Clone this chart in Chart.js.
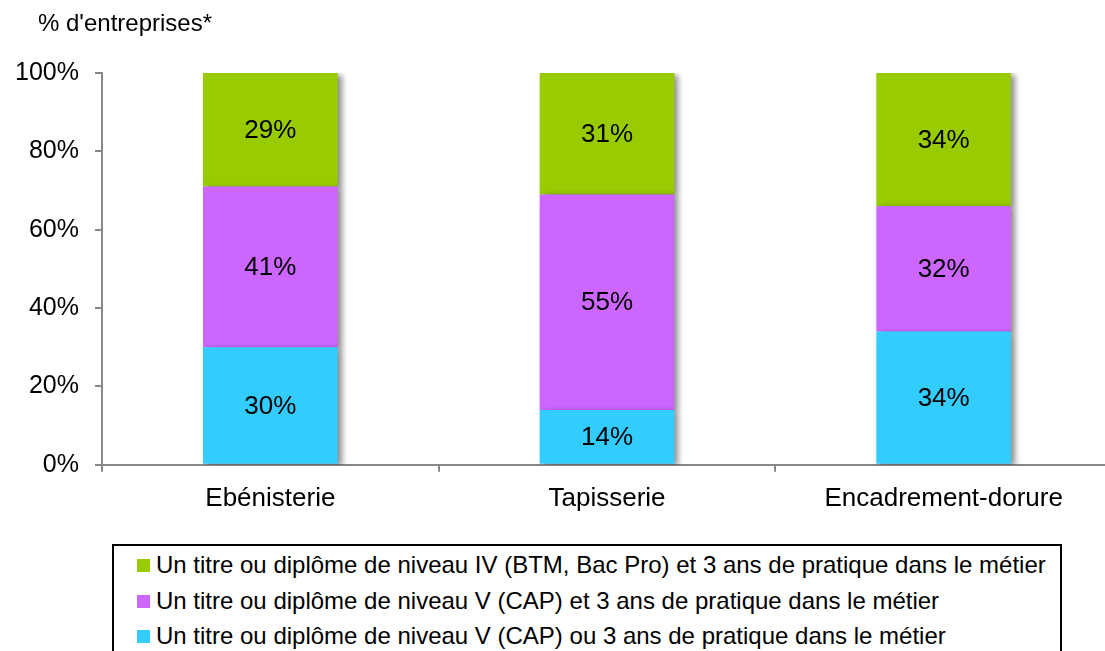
<!DOCTYPE html>
<html lang="fr">
<head>
<meta charset="utf-8">
<script src="https://cdn.jsdelivr.net/npm/chart.js@4"></script>
<style>
  html, body { margin: 0; padding: 0; background: #fff; overflow: hidden; }
  #wrap { position: relative; width: 1112px; height: 651px; }
  #title { position: absolute; left: 38px; top: 9px; font: 24px 'Liberation Sans', Arial, sans-serif; color: #000; }
  #legend { position: absolute; left: 112px; top: 544px; width: 946px; height: 140px; border: 2px solid #000; background: #fff; }
  .item { position: absolute; left: 0; height: 35px; font: 24px 'Liberation Sans', Arial, sans-serif; color: #000; white-space: nowrap; }
  .item span.box { position: absolute; left: 23px; top: 13px; width: 13px; height: 13px; }
  .item span.txt { position: absolute; left: 42px; top: 5px; line-height: 28px; }
</style>
</head>
<body>
<div id="wrap">
  <canvas id="formationChart" width="1112" height="651"></canvas>
  <div id="title">% d'entreprises*</div>
  <div id="legend"></div>
</div>
<script>
const metiers = ["Ebénisterie", "Tapisserie", "Encadrement-dorure"];
const seriesNames = [
    "Un titre ou diplôme de niveau V (CAP) ou 3 ans de pratique dans le métier",
    "Un titre ou diplôme de niveau V (CAP) et 3 ans de pratique dans le métier",
    "Un titre ou diplôme de niveau IV (BTM, Bac Pro) et 3 ans de pratique dans le métier"
];
const niveauVou = [30, 14, 34];
const niveauVet = [41, 55, 32];
const niveauIV = [29, 31, 34];
const yTicks = [0, 20, 40, 60, 80, 100];
const colors = ["#33CCFF", "#CC66FF", "#99CC00"];

const axisGrey = "#888888";
const font = "'Liberation Sans', Arial, sans-serif";

// ombre portée sous les barres
const barShadow = {
    id: "barShadow",
    beforeDatasetDraw(chart) {
        const c = chart.ctx;
        c.save();
        c.shadowColor = "rgba(0, 0, 0, 0.45)";
        c.shadowBlur = 6;
        c.shadowOffsetX = 4;
        c.shadowOffsetY = 2;
    },
    afterDatasetDraw(chart) {
        chart.ctx.restore();
    }
};

// pourcentage au milieu de chaque segment
const segmentLabels = {
    id: "segmentLabels",
    afterDatasetsDraw(chart) {
        const c = chart.ctx;
        c.save();
        c.font = "26px " + font;
        c.fillStyle = "#000";
        c.textAlign = "center";
        c.textBaseline = "middle";
        chart.data.datasets.forEach((ds, i) => {
            chart.getDatasetMeta(i).data.forEach((bar, j) => {
                const p = bar.getProps(["x", "y", "base"], true);
                c.fillText(ds.data[j] + "%", p.x, (p.y + p.base) / 2 + 1);
            });
        });
        c.restore();
    }
};

const ctx = document.getElementById("formationChart").getContext("2d");

const chart = new Chart(ctx, {
    type: "bar",
    data: {
        labels: metiers,
        datasets: [niveauVou, niveauVet, niveauIV].map((values, i) => ({
            label: seriesNames[i],
            data: values,
            backgroundColor: colors[i],
            borderWidth: 0,
            barPercentage: 0.4,
            categoryPercentage: 1
        }))
    },
    options: {
        responsive: false,
        animation: false,
        layout: { padding: { top: 73, left: 14, right: 0, bottom: 126 } },
        plugins: {
            legend: { display: false },
            tooltip: { enabled: false }
        },
        scales: {
            x: {
                stacked: true,
                border: { color: axisGrey, width: 2 },
                grid: { drawOnChartArea: false, color: axisGrey, lineWidth: 2, tickLength: 7 },
                ticks: { color: "#000", font: { family: font, size: 26 }, padding: 11 }
            },
            y: {
                stacked: true,
                min: 0,
                max: 100,
                afterBuildTicks(scale) { scale.ticks = yTicks.map(v => ({ value: v })); },
                afterFit(scale) { scale.width = 88; },
                border: { color: axisGrey, width: 2 },
                grid: { drawOnChartArea: false, color: axisGrey, lineWidth: 2, tickLength: 7 },
                ticks: { color: "#000", font: { family: font, size: 25 }, padding: 16, callback: v => v + "%" }
            }
        }
    },
    plugins: [barShadow, segmentLabels]
});

// légende encadrée, ordre inverse de l'empilement
const legend = document.getElementById("legend");
chart.data.datasets.slice().reverse().forEach((ds, k) => {
    const row = document.createElement("div");
    row.className = "item";
    row.style.top = (k * 35.5) + "px";
    row.innerHTML = '<span class="box" style="background:' + ds.backgroundColor + '"></span>' +
        '<span class="txt"></span>';
    row.querySelector(".txt").textContent = ds.label;
    legend.appendChild(row);
});
</script>
</body>
</html>
